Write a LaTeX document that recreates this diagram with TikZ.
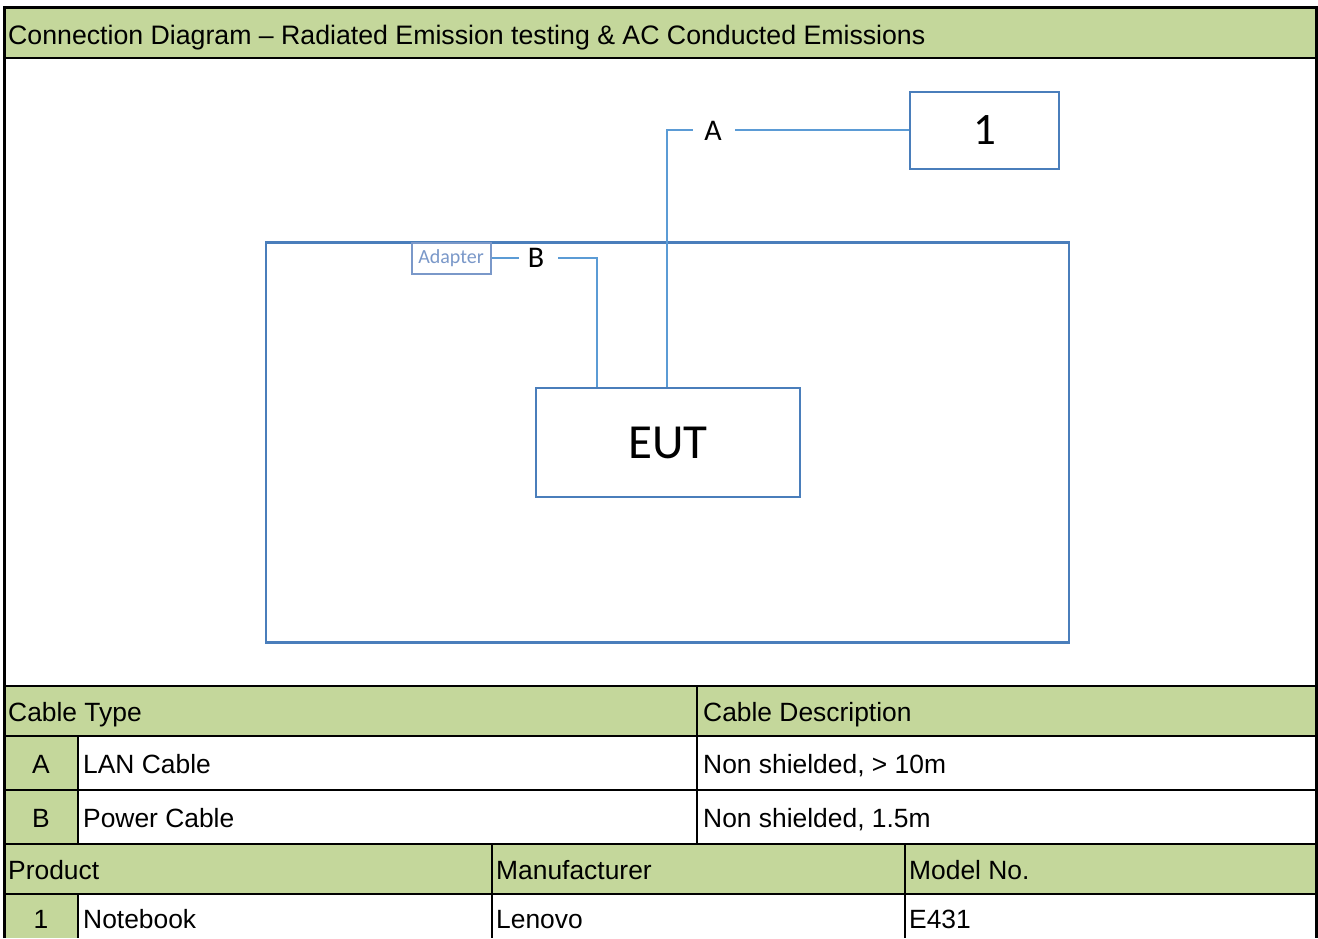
\documentclass[tikz,border=0pt]{standalone}
\usepackage{fontspec}
\setmainfont{Liberation Sans}
\newfontfamily\calfont{Carlito}
\definecolor{hdrgreen}{HTML}{C4D79B}
\definecolor{rectblue}{HTML}{4A7EBB}
\definecolor{cableblue}{HTML}{5B9BD5}
\definecolor{adaptblue}{HTML}{7A98C9}
\begin{document}
\begin{tikzpicture}[x=1pt,y=-1pt,
  frame/.style={line width=3pt,draw=black},
  grid/.style={line width=2.2pt,draw=black},
  tbl/.style={font=\fontsize{26.4}{30}\selectfont,inner sep=0pt,anchor=base west},
  tblc/.style={font=\fontsize{26.4}{30}\selectfont,inner sep=0pt,anchor=base},
  shapebox/.style={draw=rectblue,line width=2pt,fill=white},
  cable/.style={draw=cableblue,line width=2pt},
  cablelbl/.style={font=\calfont\fontsize{30}{32}\selectfont,inner sep=0pt}
]
\useasboundingbox (0,0) rectangle (1318,938);
\fill[white] (0,0) rectangle (1318,938);
% header band
\fill[hdrgreen] (4.5,7.5) rectangle (1316.5,58);
\node[tbl,font=\fontsize{26.7}{30}\selectfont] (title) at (8,44) {Connection Diagram – Radiated Emission testing \& AC Conducted Emissions};
% table bands
\fill[hdrgreen] (4.5,686) rectangle (1316.5,736);
\fill[hdrgreen] (4.5,736) rectangle (78,844);
\fill[hdrgreen] (4.5,844) rectangle (1316.5,894);
\fill[hdrgreen] (4.5,894) rectangle (78,938);
% grid lines
\draw[grid] (4.5,58) -- (1316.5,58);
\draw[grid] (4.5,686) -- (1316.5,686);
\draw[grid] (4.5,736) -- (1316.5,736);
\draw[grid] (4.5,790) -- (1316.5,790);
\draw[grid] (4.5,844) -- (1316.5,844);
\draw[grid] (4.5,894) -- (1316.5,894);
\draw[line width=2pt] (78,736) -- (78,844);
\draw[line width=2pt] (78,894) -- (78,938);
\draw[line width=2pt] (697,686) -- (697,844);
\draw[line width=2pt] (492,844) -- (492,938);
\draw[line width=2pt] (905,844) -- (905,938);
% outer frame
\draw[frame] (4.5,938) -- (4.5,7.5) -- (1316.5,7.5) -- (1316.5,938);
% table texts
\node[tbl] (ct) at (8,721) {Cable Type};
\node[tbl] (cd) at (703,721) {Cable Description};
\node[tblc] (la) at (41,773) {A};
\node[tbl] (lan) at (83,773) {LAN Cable};
\node[tbl] (lanD) at (703,773) {Non shielded, > 10m};
\node[tblc] (lb) at (41,827) {B};
\node[tbl] (pow) at (83,827) {Power Cable};
\node[tbl] (powD) at (703,827) {Non shielded, 1.5m};
\node[tbl] (prod) at (8,879) {Product};
\node[tbl] (manu) at (496,879) {Manufacturer};
\node[tbl] (model) at (909,879) {Model No.};
\node[tblc] (n1) at (41,928) {1};
\node[tbl] (nb) at (83,928) {Notebook};
\node[tbl] (len) at (496,928) {Lenovo};
\node[tbl] (e431) at (909,928) {E431};
% diagram
\node[draw=rectblue,line width=2.5pt,minimum width=803pt,minimum height=400pt,inner sep=0pt,anchor=north west] (room) at (264.5,241) {};
\node[shapebox,minimum width=264pt,minimum height=109pt,inner sep=0pt,anchor=north west,font=\calfont\fontsize{49}{52}\selectfont] (eut) at (535,387) {EUT};
\node[shapebox,minimum width=149pt,minimum height=77pt,inner sep=0pt,anchor=north west,font=\calfont\fontsize{45}{48}\selectfont] (p1) at (909,91) {1};
\node[draw=adaptblue,line width=2pt,fill=white,minimum width=79pt,minimum height=31pt,inner sep=0pt,anchor=north west,text=adaptblue,font=\calfont\fontsize{20}{22}\selectfont] (adp) at (410.5,241.5) {Adapter};
% cable A
\coordinate (eA) at (667,387);
\node[cablelbl] (lblA) at (713,131) {A};
\draw[cable] (eA) -- (667,130) -- (693,130);
\draw[cable] (735,130) -- (p1.west |- 0,130);
% cable B
\coordinate (eB) at (597,387);
\node[cablelbl] (lblB) at (536,258) {B};
\draw[cable] (eB) -- (597,258) -- (558,258);
\draw[cable] (519,258) -- (adp.east |- 0,258);
\end{tikzpicture}
\end{document}
